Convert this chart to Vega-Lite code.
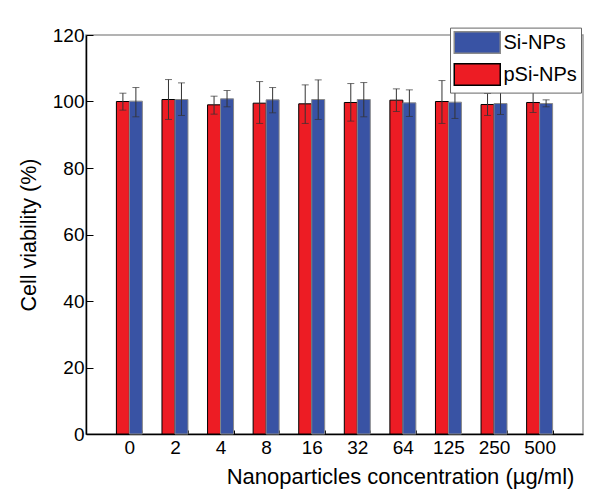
{
  "$schema": "https://vega.github.io/schema/vega-lite/v6.json",
  "autosize": {"type": "none"},
  "padding": {"left": 86, "top": 35, "right": 8, "bottom": 69},
  "width": 497,
  "height": 399,
  "background": "white",
  "config": {
    "font": "Liberation Sans",
    "view": {"stroke": "#9a9a9a", "strokeWidth": 1.5},
    "axis": {"grid": false, "domainColor": "#000", "domainWidth": 1.5, "tickColor": "#000", "tickWidth": 1, "labelColor": "#000", "titleColor": "#000", "titleFontWeight": "normal", "labelFont": "Liberation Sans", "titleFont": "Liberation Sans"}
  },
  "data": {
    "values": [
      {"conc": "0", "series": "pSi-NPs", "v": 100.0, "lo": 97.4, "hi": 102.5},
      {"conc": "0", "series": "Si-NPs", "v": 100.1, "lo": 95.4, "hi": 104.2},
      {"conc": "2", "series": "pSi-NPs", "v": 100.6, "lo": 94.6, "hi": 106.6},
      {"conc": "2", "series": "Si-NPs", "v": 100.6, "lo": 95.8, "hi": 105.6},
      {"conc": "4", "series": "pSi-NPs", "v": 99.0, "lo": 96.2, "hi": 101.6},
      {"conc": "4", "series": "Si-NPs", "v": 100.8, "lo": 98.4, "hi": 103.3},
      {"conc": "8", "series": "pSi-NPs", "v": 99.5, "lo": 93.4, "hi": 106.0},
      {"conc": "8", "series": "Si-NPs", "v": 100.5, "lo": 96.6, "hi": 104.2},
      {"conc": "16", "series": "pSi-NPs", "v": 99.3, "lo": 93.4, "hi": 105.0},
      {"conc": "16", "series": "Si-NPs", "v": 100.6, "lo": 94.6, "hi": 106.5},
      {"conc": "32", "series": "pSi-NPs", "v": 99.7, "lo": 94.1, "hi": 105.4},
      {"conc": "32", "series": "Si-NPs", "v": 100.6, "lo": 95.4, "hi": 105.7},
      {"conc": "64", "series": "pSi-NPs", "v": 100.4, "lo": 97.0, "hi": 103.8},
      {"conc": "64", "series": "Si-NPs", "v": 99.6, "lo": 95.5, "hi": 103.5},
      {"conc": "125", "series": "pSi-NPs", "v": 100.0, "lo": 93.4, "hi": 106.3},
      {"conc": "125", "series": "Si-NPs", "v": 99.8, "lo": 94.9, "hi": 104.7},
      {"conc": "250", "series": "pSi-NPs", "v": 99.1, "lo": 95.8, "hi": 102.4},
      {"conc": "250", "series": "Si-NPs", "v": 99.4, "lo": 96.1, "hi": 102.7},
      {"conc": "500", "series": "pSi-NPs", "v": 99.7, "lo": 96.7, "hi": 102.7},
      {"conc": "500", "series": "Si-NPs", "v": 99.4, "lo": 98.4, "hi": 100.5}
    ]
  },
  "encoding": {
    "x": {
      "field": "conc", "type": "nominal", "sort": null,
      "scale": {"domain": ["0","2","4","8","16","32","64","125","250","500"], "paddingInner": 0.43, "paddingOuter": 0.667},
      "axis": {"title": "Nanoparticles concentration (µg/ml)", "labelAngle": 0, "labelFontSize": 19, "titleFontSize": 22, "tickBand": "extent", "tickSize": -4, "labelPadding": 8, "titlePadding": 9, "titleX": 314, "titleAlign": "center"}
    },
    "xOffset": {"field": "series", "type": "nominal", "scale": {"domain": ["pSi-NPs", "Si-NPs"], "paddingInner": 0, "paddingOuter": 0}}
  },
  "layer": [
    {
      "mark": {"type": "bar", "strokeWidth": 1},
      "encoding": {
        "y": {
          "field": "v", "type": "quantitative",
          "scale": {"domain": [0, 120], "nice": false, "zero": true},
          "axis": {
            "title": "Cell viability (%)",
            "values": [0,10,20,30,40,50,60,70,80,90,100,110,120],
            "labelExpr": "datum.value % 20 === 0 ? datum.label : ''",
            "tickSize": {"condition": {"test": "datum.value % 20 === 0", "value": -7}, "value": -4},
            "labelFontSize": 19, "titleFontSize": 21.5, "labelPadding": 9, "titlePadding": 12
          }
        },
        "color": {
          "field": "series", "type": "nominal",
          "scale": {"domain": ["Si-NPs", "pSi-NPs"], "range": ["#3953A4", "#ED1C24"]},
          "legend": {
            "title": null, "orient": "none", "legendX": 364, "legendY": -7.4,
            "symbolType": "M-1,-1H3.28V1H-1Z", "symbolSize": 462, "symbolStrokeWidth": 1.5,
            "labelFontSize": 20, "labelFont": "Liberation Sans", "labelColor": "#000", "labelOffset": 27,
            "padding": 3.5, "strokeColor": "#666", "fillColor": "white", "rowPadding": 3
          }
        },
        "stroke": {
          "field": "series", "type": "nominal",
          "scale": {"domain": ["Si-NPs", "pSi-NPs"], "range": ["#8a8a8a", "#000000"]},
          "legend": {
            "title": null, "orient": "none", "legendX": 364, "legendY": -7.4,
            "symbolType": "M-1,-1H3.28V1H-1Z", "symbolSize": 462, "symbolStrokeWidth": 1.5,
            "labelFontSize": 20, "labelFont": "Liberation Sans", "labelColor": "#000", "labelOffset": 27,
            "padding": 3.5, "strokeColor": "#666", "fillColor": "white", "rowPadding": 3
          }
        }
      }
    },
    {
      "mark": {"type": "rule", "color": "#333", "strokeWidth": 1},
      "encoding": {
        "y": {"field": "lo", "type": "quantitative"},
        "y2": {"field": "hi"}
      }
    },
    {
      "mark": {"type": "tick", "orient": "horizontal", "size": 7, "thickness": 1, "color": "#333"},
      "encoding": {"y": {"field": "hi", "type": "quantitative"}}
    },
    {
      "mark": {"type": "tick", "orient": "horizontal", "size": 7, "thickness": 1, "color": "#333"},
      "encoding": {"y": {"field": "lo", "type": "quantitative"}}
    }
  ]
}
